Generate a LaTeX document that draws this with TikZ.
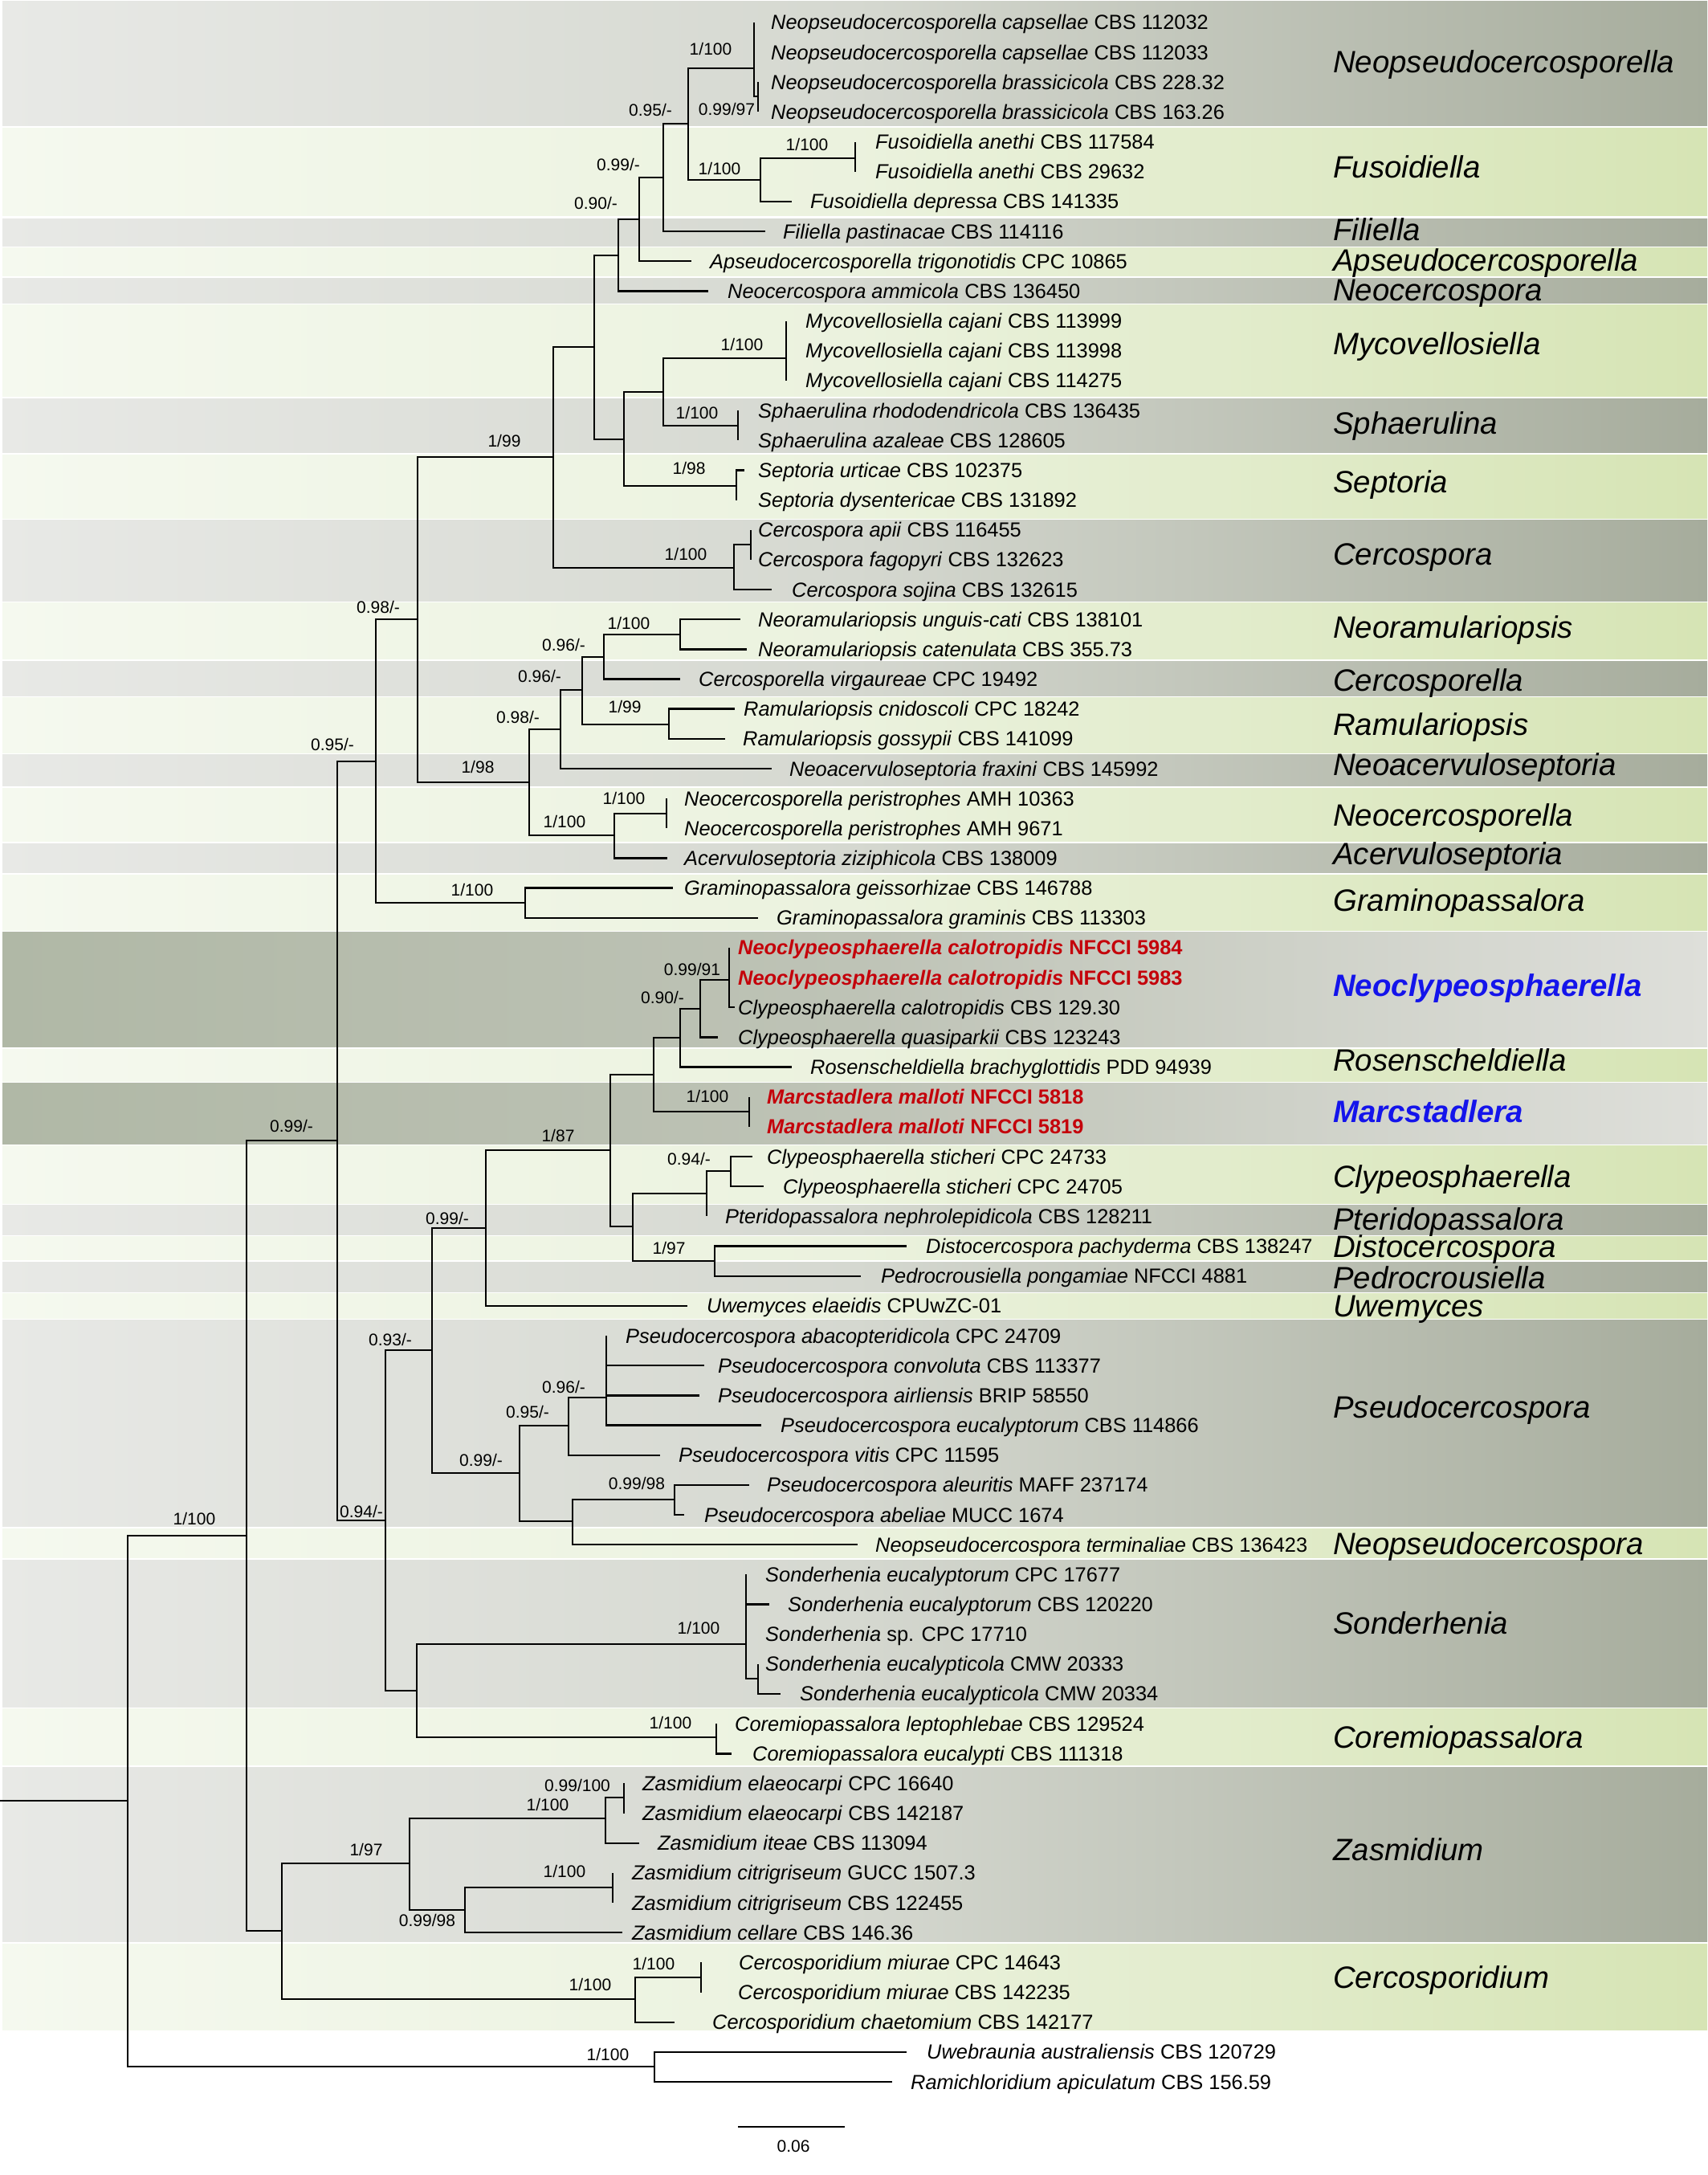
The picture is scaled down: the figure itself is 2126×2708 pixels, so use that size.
\documentclass[tikz,border=0pt]{standalone}
\usepackage{fontspec}
\setmainfont{Liberation Sans}
\definecolor{g0}{RGB}{232,233,230}
\definecolor{g1}{RGB}{213,216,208}
\definecolor{g2}{RGB}{166,172,156}
\definecolor{e0}{RGB}{245,249,239}
\definecolor{e1}{RGB}{235,242,222}
\definecolor{e2}{RGB}{214,228,180}
\definecolor{d0}{RGB}{176,184,166}
\definecolor{d1}{RGB}{190,195,182}
\definecolor{d2}{RGB}{222,223,218}
\definecolor{nred}{RGB}{196,0,10}
\definecolor{nblue}{RGB}{20,20,235}
\newcommand{\mytx}[5]{%
  \coordinate (#1) at (#2,{28+37.16*(#4-1)});
  \node[taxon] (#1l) at (#3,{37+37.16*(#4-1)}) {#5};}
\newcommand{\mysv}[4]{\node[suplab] (#1) at (#2,{#3+7.5}) {#4};}
\newcommand{\mycl}[3]{\node[cladelab] (#1) at (1660,{#2+13.8}) {#3};}
\newcommand{\myband}[3]{\shade[#1] (3,#2) rectangle (2126,#3);}
\begin{document}
\begin{tikzpicture}[x=1pt,y=-1pt,
  branch/.style={line width=2.4pt, black},
  taxon/.style={anchor=base west, inner sep=0pt, font=\fontsize{25.4}{30}\selectfont},
  suplab/.style={anchor=base, inner sep=0pt, font=\fontsize{21}{24}\selectfont},
  cladelab/.style={anchor=base west, inner sep=0pt, font=\fontsize{38.4}{44}\selectfont\itshape},
  gband/.style={left color=g0, right color=g2, middle color=g1},
  eband/.style={left color=e0, right color=e2, middle color=e1},
  dband/.style={left color=d0, right color=d2, middle color=d1}]
\useasboundingbox (0,0) rectangle (2126,2708);
\fill[white] (0,0) rectangle (2126,2708);
% ---------- bands
\myband{gband}{2}{157}
\myband{eband}{160}{268}
\myband{gband}{272}{306}
\myband{eband}{308}{343}
\myband{gband}{346}{377}
\myband{eband}{379}{493}
\myband{gband}{496}{563}
\myband{eband}{566}{645}
\myband{gband}{647}{748}
\myband{eband}{750}{820}
\myband{gband}{823}{866}
\myband{eband}{868}{937}
\myband{gband}{939}{978}
\myband{eband}{981}{1047}
\myband{gband}{1050}{1086}
\myband{eband}{1089}{1158}
\myband{dband}{1160}{1303}
\myband{eband}{1306}{1346}
\myband{dband}{1348}{1424}
\myband{eband}{1426}{1498}
\myband{gband}{1500}{1537}
\myband{eband}{1539}{1568}
\myband{gband}{1571}{1608}
\myband{eband}{1610}{1641}
\myband{gband}{1643}{1900}
\myband{eband}{1903}{1939}
\myband{gband}{1942}{2125}
\myband{eband}{2127}{2197}
\myband{gband}{2200}{2417}
\myband{eband}{2420}{2527}
% ---------- internal nodes
\coordinate (nNeo) at (939,85);
\coordinate (nNeo34) at (944,120);
\coordinate (nFusA) at (1065,197);
\coordinate (nFus) at (947,224);
\coordinate (nA) at (857,154);
\coordinate (nB) at (826,221);
\coordinate (nC) at (796,273);
\coordinate (nD) at (770,318);
\coordinate (nMyc) at (979,446);
\coordinate (nSph) at (919,530);
\coordinate (nG) at (826,488);
\coordinate (nSep) at (917,605);
\coordinate (nH) at (777,547);
\coordinate (nE) at (740,432);
\coordinate (nCer2) at (935,678);
\coordinate (nCer) at (914,707);
\coordinate (nF) at (689,569);
\coordinate (nNra) at (847,790);
\coordinate (nK) at (752,818);
\coordinate (nRam) at (833,902);
\coordinate (nL) at (725,859);
\coordinate (nM) at (698,908);
\coordinate (nNcp) at (830,1013);
\coordinate (nO) at (765,1040);
\coordinate (nN) at (659,974);
\coordinate (nI) at (520,771);
\coordinate (nGra) at (654,1124);
\coordinate (nJ) at (468,948);
\coordinate (nAC) at (908,1220);
\coordinate (nAB) at (872,1256);
\coordinate (nAA) at (847,1292);
\coordinate (nMar) at (933,1384);
\coordinate (nY) at (814,1338);
\coordinate (nSti) at (910,1458);
\coordinate (nAD) at (880,1486);
\coordinate (nAE) at (890,1570);
\coordinate (nZ) at (788,1527);
\coordinate (nX) at (760,1432);
\coordinate (nU) at (605,1529);
\coordinate (nAH) at (755,1740);
\coordinate (nAF) at (708,1775);
\coordinate (nAI) at (840,1867);
\coordinate (nAG) at (713,1894);
\coordinate (nV) at (647,1834);
\coordinate (nT) at (538,1681);
\coordinate (nSon2) at (944,2090);
\coordinate (nSon) at (929,2047);
\coordinate (nCor) at (892,2163);
\coordinate (nW) at (519,2105);
\coordinate (nR) at (480,1893);
\coordinate (nP) at (420,1420);
\coordinate (nZe) at (777,2238);
\coordinate (nAM) at (754,2264);
\coordinate (nZc) at (763,2350);
\coordinate (nAN) at (579,2378);
\coordinate (nAK) at (510,2320);
\coordinate (nCsp2) at (873,2462);
\coordinate (nAL) at (791,2489);
\coordinate (nAJ) at (351,2404);
\coordinate (nQ) at (307,1912);
\coordinate (nOut) at (815,2573);
\coordinate (nS) at (159,2242);
\coordinate (root) at (0,2242);
% ---------- taxa
\mytx{t1}{939}{960}{1}{\textit{Neopseudocercosporella capsellae} CBS 112032}
\mytx{t2}{939}{960}{2}{\textit{Neopseudocercosporella capsellae} CBS 112033}
\mytx{t3}{944}{960}{3}{\textit{Neopseudocercosporella brassicicola} CBS 228.32}
\mytx{t4}{944}{960}{4}{\textit{Neopseudocercosporella brassicicola} CBS 163.26}
\mytx{t5}{1065}{1090}{5}{\textit{Fusoidiella anethi} CBS 117584}
\mytx{t6}{1065}{1090}{6}{\textit{Fusoidiella anethi} CBS 29632}
\mytx{t7}{986}{1009}{7}{\textit{Fusoidiella depressa} CBS 141335}
\mytx{t8}{953}{975}{8}{\textit{Filiella pastinacae} CBS 114116}
\mytx{t9}{861}{884}{9}{\textit{Apseudocercosporella trigonotidis} CPC 10865}
\mytx{t10}{882}{906}{10}{\textit{Neocercospora ammicola} CBS 136450}
\mytx{t11}{979}{1003}{11}{\textit{Mycovellosiella cajani} CBS 113999}
\mytx{t12}{979}{1003}{12}{\textit{Mycovellosiella cajani} CBS 113998}
\mytx{t13}{979}{1003}{13}{\textit{Mycovellosiella cajani} CBS 114275}
\mytx{t14}{919}{944}{14}{\textit{Sphaerulina rhododendricola} CBS 136435}
\mytx{t15}{919}{944}{15}{\textit{Sphaerulina azaleae} CBS 128605}
\mytx{t16}{927}{944}{16}{\textit{Septoria urticae} CBS 102375}
\mytx{t17}{917}{944}{17}{\textit{Septoria dysentericae} CBS 131892}
\mytx{t18}{935}{944}{18}{\textit{Cercospora apii} CBS 116455}
\mytx{t19}{935}{944}{19}{\textit{Cercospora fagopyri} CBS 132623}
\mytx{t20}{961}{986}{20}{\textit{Cercospora sojina} CBS 132615}
\mytx{t21}{922}{944}{21}{\textit{Neoramulariopsis unguis-cati} CBS 138101}
\mytx{t22}{930}{944}{22}{\textit{Neoramulariopsis catenulata} CBS 355.73}
\mytx{t23}{847}{870}{23}{\textit{Cercosporella virgaureae} CPC 19492}
\mytx{t24}{915}{926}{24}{\textit{Ramulariopsis cnidoscoli} CPC 18242}
\mytx{t25}{903}{925}{25}{\textit{Ramulariopsis gossypii} CBS 141099}
\mytx{t26}{961}{983}{26}{\textit{Neoacervuloseptoria fraxini} CBS 145992}
\mytx{t27}{830}{852}{27}{\textit{Neocercosporella peristrophes} AMH 10363}
\mytx{t28}{830}{852}{28}{\textit{Neocercosporella peristrophes} AMH 9671}
\mytx{t29}{831}{852}{29}{\textit{Acervuloseptoria ziziphicola} CBS 138009}
\mytx{t30}{838}{852}{30}{\textit{Graminopassalora geissorhizae} CBS 146788}
\mytx{t31}{944}{967}{31}{\textit{Graminopassalora graminis} CBS 113303}
\mytx{t32}{908}{919}{32}{\color{nred}\bfseries\textit{Neoclypeosphaerella calotropidis} NFCCI 5984}
\mytx{t33}{908}{919}{33}{\color{nred}\bfseries\textit{Neoclypeosphaerella calotropidis} NFCCI 5983}
\mytx{t34}{915}{919}{34}{\textit{Clypeosphaerella calotropidis} CBS 129.30}
\mytx{t35}{894}{919}{35}{\textit{Clypeosphaerella quasiparkii} CBS 123243}
\mytx{t36}{986}{1009}{36}{\textit{Rosenscheldiella brachyglottidis} PDD 94939}
\mytx{t37}{933}{955}{37}{\color{nred}\bfseries\textit{Marcstadlera malloti} NFCCI 5818}
\mytx{t38}{933}{955}{38}{\color{nred}\bfseries\textit{Marcstadlera malloti} NFCCI 5819}
\mytx{t39}{937}{955}{39}{\textit{Clypeosphaerella sticheri} CPC 24733}
\mytx{t40}{951}{975}{40}{\textit{Clypeosphaerella sticheri} CPC 24705}
\mytx{t41}{880}{903}{41}{\textit{Pteridopassalora nephrolepidicola} CBS 128211}
\mytx{t42}{1129}{1153}{42}{\textit{Distocercospora pachyderma} CBS 138247}
\mytx{t43}{1072}{1097}{43}{\textit{Pedrocrousiella pongamiae} NFCCI 4881}
\mytx{t44}{856}{880}{44}{\textit{Uwemyces elaeidis} CPUwZC-01}
\mytx{t45}{755}{779}{45}{\textit{Pseudocercospora abacopteridicola} CPC 24709}
\mytx{t46}{877}{894}{46}{\textit{Pseudocercospora convoluta} CBS 113377}
\mytx{t47}{871}{894}{47}{\textit{Pseudocercospora airliensis} BRIP 58550}
\mytx{t48}{948}{972}{48}{\textit{Pseudocercospora eucalyptorum} CBS 114866}
\mytx{t49}{822}{845}{49}{\textit{Pseudocercospora vitis} CPC 11595}
\mytx{t50}{933}{955}{50}{\textit{Pseudocercospora aleuritis} MAFF 237174}
\mytx{t51}{852}{877}{51}{\textit{Pseudocercospora abeliae} MUCC 1674}
\mytx{t52}{1068}{1090}{52}{\textit{Neopseudocercospora terminaliae} CBS 136423}
\mytx{t53}{929}{953}{53}{\textit{Sonderhenia eucalyptorum} CPC 17677}
\mytx{t54}{958}{981}{54}{\textit{Sonderhenia eucalyptorum} CBS 120220}
\mytx{t55}{929}{953}{55}{\textit{Sonderhenia} sp. CPC 17710}
\mytx{t56}{944}{953}{56}{\textit{Sonderhenia eucalypticola} CMW 20333}
\mytx{t57}{972}{996}{57}{\textit{Sonderhenia eucalypticola} CMW 20334}
\mytx{t58}{892}{915}{58}{\textit{Coremiopassalora leptophlebae} CBS 129524}
\mytx{t59}{911}{937}{59}{\textit{Coremiopassalora eucalypti} CBS 111318}
\mytx{t60}{777}{800}{60}{\textit{Zasmidium elaeocarpi} CPC 16640}
\mytx{t61}{777}{800}{61}{\textit{Zasmidium elaeocarpi} CBS 142187}
\mytx{t62}{796}{819}{62}{\textit{Zasmidium iteae} CBS 113094}
\mytx{t63}{763}{787}{63}{\textit{Zasmidium citrigriseum} GUCC 1507.3}
\mytx{t64}{763}{787}{64}{\textit{Zasmidium citrigriseum} CBS 122455}
\mytx{t65}{775}{787}{65}{\textit{Zasmidium cellare} CBS 146.36}
\mytx{t66}{873}{920}{66}{\textit{Cercosporidium miurae} CPC 14643}
\mytx{t67}{873}{919}{67}{\textit{Cercosporidium miurae} CBS 142235}
\mytx{t68}{840}{887}{68}{\textit{Cercosporidium chaetomium} CBS 142177}
\mytx{t69}{1129}{1154}{69}{\textit{Uwebraunia australiensis} CBS 120729}
\mytx{t70}{1111}{1134}{70}{\textit{Ramichloridium apiculatum} CBS 156.59}
% ---------- branches
\foreach \p/\c in {nNeo/t1, nNeo/t2, nNeo/nNeo34, nNeo34/t3, nNeo34/t4,
  nFusA/t5, nFusA/t6, nFus/nFusA, nFus/t7,
  nA/nNeo, nA/nFus, nB/nA, nB/t8, nC/nB, nC/t9, nD/nC, nD/t10,
  nMyc/t11, nMyc/t12, nMyc/t13, nSph/t14, nSph/t15, nG/nMyc, nG/nSph,
  nSep/t16, nSep/t17, nH/nG, nH/nSep, nE/nD, nE/nH,
  nCer2/t18, nCer2/t19, nCer/nCer2, nCer/t20, nF/nE, nF/nCer,
  nNra/t21, nNra/t22, nK/nNra, nK/t23, nRam/t24, nRam/t25, nL/nK, nL/nRam, nM/nL, nM/t26,
  nNcp/t27, nNcp/t28, nO/nNcp, nO/t29, nN/nM, nN/nO, nI/nF, nI/nN,
  nGra/t30, nGra/t31, nJ/nI, nJ/nGra,
  nAC/t32, nAC/t33, nAC/t34, nAB/nAC, nAB/t35, nAA/nAB, nAA/t36, nMar/t37, nMar/t38, nY/nAA, nY/nMar,
  nSti/t39, nSti/t40, nAD/nSti, nAD/t41, nAE/t42, nAE/t43, nZ/nAD, nZ/nAE, nX/nY, nX/nZ, nU/nX, nU/t44,
  nAH/t45, nAH/t46, nAH/t47, nAH/t48, nAF/nAH, nAF/t49, nAI/t50, nAI/t51, nAG/nAI, nAG/t52, nV/nAF, nV/nAG, nT/nU, nT/nV,
  nSon2/t56, nSon2/t57, nSon/t53, nSon/t54, nSon/t55, nSon/nSon2, nCor/t58, nCor/t59, nW/nSon, nW/nCor, nR/nT, nR/nW, nP/nJ, nP/nR,
  nZe/t60, nZe/t61, nAM/nZe, nAM/t62, nZc/t63, nZc/t64, nAN/nZc, nAN/t65, nAK/nAM, nAK/nAN,
  nCsp2/t66, nCsp2/t67, nAL/nCsp2, nAL/t68, nAJ/nAK, nAJ/nAL, nQ/nP, nQ/nAJ,
  nOut/t69, nOut/t70, nS/nQ, nS/nOut}
  \draw[branch] (\p) |- (\c);
\draw[branch] (root) -- (nS);
% ---------- support values
\mysv{s1}{885}{61}{1/100}
\mysv{s2}{905}{136}{0.99/97}
\mysv{s3}{810}{137}{0.95/-}
\mysv{s4}{1005}{180}{1/100}
\mysv{s5}{896}{210}{1/100}
\mysv{s6}{770}{205}{0.99/-}
\mysv{s7}{742}{253}{0.90/-}
\mysv{s8}{924}{429}{1/100}
\mysv{s9}{628}{549}{1/99}
\mysv{s10}{868}{514}{1/100}
\mysv{s11}{858}{583}{1/98}
\mysv{s12}{854}{690}{1/100}
\mysv{s13}{471}{756}{0.98/-}
\mysv{s14}{783}{776}{1/100}
\mysv{s15}{702}{803}{0.96/-}
\mysv{s16}{672}{842}{0.96/-}
\mysv{s17}{778}{880}{1/99}
\mysv{s18}{645}{893}{0.98/-}
\mysv{s19}{414}{927}{0.95/-}
\mysv{s20}{595}{955}{1/98}
\mysv{s21}{777}{994}{1/100}
\mysv{s22}{703}{1023}{1/100}
\mysv{s23}{588}{1108}{1/100}
\mysv{s24}{862}{1207}{0.99/91}
\mysv{s25}{825}{1242}{0.90/-}
\mysv{s26}{881}{1365}{1/100}
\mysv{s27}{363}{1402}{0.99/-}
\mysv{s28}{695}{1414}{1/87}
\mysv{s29}{858}{1443}{0.94/-}
\mysv{s30}{557}{1517}{0.99/-}
\mysv{s31}{833}{1554}{1/97}
\mysv{s32}{486}{1668}{0.93/-}
\mysv{s33}{702}{1727}{0.96/-}
\mysv{s34}{657}{1758}{0.95/-}
\mysv{s35}{599}{1818}{0.99/-}
\mysv{s36}{793}{1847}{0.99/98}
\mysv{s37}{450}{1882}{0.94/-}
\mysv{s38}{242}{1891}{1/100}
\mysv{s39}{870}{2027}{1/100}
\mysv{s40}{835}{2145}{1/100}
\mysv{s41}{719}{2223}{0.99/100}
\mysv{s42}{682}{2247}{1/100}
\mysv{s43}{456}{2303}{1/97}
\mysv{s44}{703}{2330}{1/100}
\mysv{s45}{532}{2391}{0.99/98}
\mysv{s46}{814}{2445}{1/100}
\mysv{s47}{735}{2471}{1/100}
\mysv{s48}{757}{2558}{1/100}
% ---------- clade labels
\mycl{c1}{77}{Neopseudocercosporella}
\mycl{c2}{208}{Fusoidiella}
\mycl{c3}{286}{Filiella}
\mycl{c4}{324}{Apseudocercosporella}
\mycl{c5}{361}{Neocercospora}
\mycl{c6}{428}{Mycovellosiella}
\mycl{c7}{527}{Sphaerulina}
\mycl{c8}{600}{Septoria}
\mycl{c9}{690}{Cercospora}
\mycl{c10}{781}{Neoramulariopsis}
\mycl{c11}{847}{Cercosporella}
\mycl{c12}{902}{Ramulariopsis}
\mycl{c13}{952}{Neoacervuloseptoria}
\mycl{c14}{1015}{Neocercosporella}
\mycl{c15}{1063}{Acervuloseptoria}
\mycl{c16}{1121}{Graminopassalora}
\mycl{c17}{1227}{\color{nblue}\bfseries Neoclypeosphaerella}
\mycl{c18}{1320}{Rosenscheldiella}
\mycl{c19}{1384}{\color{nblue}\bfseries Marcstadlera}
\mycl{c20}{1465}{Clypeosphaerella}
\mycl{c21}{1518}{Pteridopassalora}
\mycl{c22}{1552}{Distocercospora}
\mycl{c23}{1591}{Pedrocrousiella}
\mycl{c24}{1626}{Uwemyces}
\mycl{c25}{1752}{Pseudocercospora}
\mycl{c26}{1922}{Neopseudocercospora}
\mycl{c27}{2021}{Sonderhenia}
\mycl{c28}{2163}{Coremiopassalora}
\mycl{c29}{2303}{Zasmidium}
\mycl{c30}{2462}{Cercosporidium}
% ---------- scale bar
\coordinate (sbL) at (919,2648);
\coordinate (sbR) at (1052,2648);
\draw[branch] (sbL) -- (sbR);
\mysv{sblab}{988}{2672}{0.06}
\end{tikzpicture}
\end{document}
